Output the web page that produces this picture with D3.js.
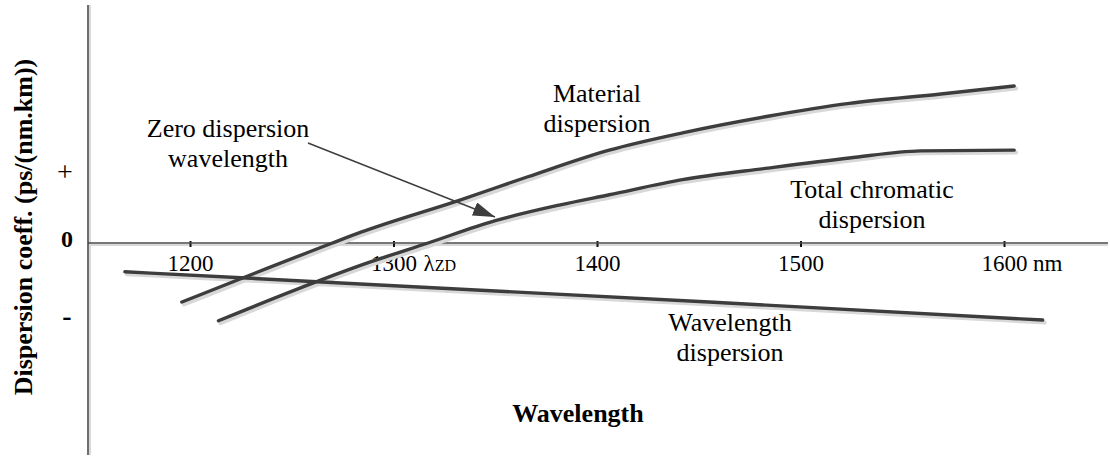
<!DOCTYPE html>
<html>
<head>
<meta charset="utf-8">
<script src="https://cdn.jsdelivr.net/npm/d3@7"></script>
<style>
    body { margin: 0; background: #fff; }
    text { font-family: "Liberation Serif", "Times New Roman", serif; fill: #000; }
</style>
</head>
<body>
<div id="chart"></div>
<script>

// wavelength (nm) and dispersion (arbitrary units: +1 = "+", -1 = "-")
const materialNm  = [1196, 1270, 1284, 1333, 1366, 1406, 1442, 1484, 1524, 1569, 1605];
const materialVal = [-0.82, 0, 0.15, 0.60, 0.92, 1.29, 1.53, 1.76, 1.94, 2.07, 2.18];

const totalNm  = [1214, 1289, 1317, 1350, 1382, 1406, 1442, 1484, 1524, 1559, 1605];
const totalVal = [-1.08, -0.26, 0, 0.31, 0.53, 0.67, 0.88, 1.04, 1.18, 1.28, 1.29];

const waveguideNm  = [1168, 1455, 1619];
const waveguideVal = [-0.40, -0.82, -1.07];

const xTicks = [1200, 1300, 1400, 1500, 1600];
const yLabels = [{v: 1, t: "+"}, {v: 0, t: "0"}, {v: -1, t: "-"}];

const W = 1110, H = 457;
const lineColor = "#3d3d3d", shadowColor = "#d8d8d8";

let svg = d3.select("#chart").append("svg")
    .attr("width", W)
    .attr("height", H);

// scales
let x = d3.scaleLinear().domain([1200, 1600]).range([190, 1004]);
let y = d3.scaleLinear().domain([-1, 1]).range([315, 171]);

const axisX0 = 88, axisX1 = 1108, axisTop = 5, axisBottom = 455;

// axis shadows
svg.append("line")
    .attr("x1", axisX0 + 2).attr("x2", axisX0 + 2)
    .attr("y1", axisTop).attr("y2", axisBottom)
    .attr("stroke", shadowColor).attr("stroke-width", 2);
svg.append("line")
    .attr("x1", axisX0).attr("x2", axisX1)
    .attr("y1", y(0) + 2).attr("y2", y(0) + 2)
    .attr("stroke", shadowColor).attr("stroke-width", 2);

// vertical axis line
svg.append("line")
    .attr("x1", axisX0).attr("x2", axisX0)
    .attr("y1", axisTop).attr("y2", axisBottom)
    .attr("stroke", "#4a4a4a").attr("stroke-width", 1.6);

// x axis through zero
let xAxis = d3.axisBottom(x)
    .tickValues(xTicks)
    .tickSize(4)
    .tickFormat(d3.format("d"));

let gx = svg.append("g")
    .attr("class", "x-axis")
    .attr("transform", `translate(0,${y(0)})`)
    .call(xAxis);

gx.select(".domain").remove();
gx.selectAll(".tick line")
    .attr("y1", -2)
    .attr("y2", 4)
    .attr("stroke", "#111")
    .attr("stroke-width", 2);
gx.selectAll(".tick text")
    .attr("y", 28)
    .attr("dy", 0)
    .style("font-family", '"Liberation Serif", "Times New Roman", serif')
    .style("font-size", "23px")
    .attr("fill", "#000");

svg.append("line")
    .attr("x1", axisX0).attr("x2", axisX1)
    .attr("y1", y(0)).attr("y2", y(0))
    .attr("stroke", "#4a4a4a").attr("stroke-width", 1.6);

// extra tick annotations
let zd = svg.append("text")
    .attr("x", x(1300) + 30)
    .attr("y", y(0) + 28)
    .style("font-size", "23px")
    .text("λ");
zd.append("tspan")
    .style("font-size", "16px")
    .text("ZD");

svg.append("text")
    .attr("x", x(1600) + 29)
    .attr("y", y(0) + 28)
    .style("font-size", "23px")
    .text("nm");

// y labels (+, 0, -)
svg.selectAll(".ylab")
    .data(yLabels)
    .enter()
    .append("text")
    .attr("class", "ylab")
    .attr("x", d => d.t === "+" ? 65 : 67)
    .attr("y", d => y(d.v))
    .attr("dy", d => d.t === "0" ? "0.15em" : "0.35em")
    .attr("text-anchor", "middle")
    .style("font-size", d => d.t === "0" ? "24px" : "28px")
    .style("font-weight", d => d.t === "+" ? "normal" : "bold")
    .text(d => d.t);

// axis titles
svg.append("text")
    .attr("transform", `translate(32,227) rotate(-90)`)
    .attr("text-anchor", "middle")
    .style("font-size", "26px")
    .style("font-weight", "bold")
    .text("Dispersion coeff. (ps/(nm.km))");

svg.append("text")
    .attr("x", 578)
    .attr("y", 422)
    .attr("text-anchor", "middle")
    .style("font-size", "26px")
    .style("font-weight", "bold")
    .text("Wavelength");

// curves
let line = d3.line()
    .x(d => x(d[0]))
    .y(d => y(d[1]))
    .curve(d3.curveMonotoneX);

let series = [
    d3.zip(materialNm, materialVal),
    d3.zip(totalNm, totalVal),
    d3.zip(waveguideNm, waveguideVal)
];

svg.selectAll(".shadow")
    .data(series)
    .enter()
    .append("path")
    .attr("class", "shadow")
    .attr("transform", "translate(2,2.5)")
    .attr("d", line)
    .attr("fill", "none")
    .attr("stroke", shadowColor)
    .attr("stroke-width", 4)
    .attr("stroke-linecap", "round");

svg.selectAll(".curve")
    .data(series)
    .enter()
    .append("path")
    .attr("class", "curve")
    .attr("d", line)
    .attr("fill", "none")
    .attr("stroke", lineColor)
    .attr("stroke-width", 3.4)
    .attr("stroke-linecap", "round");

// curve labels
let labels = [
    {lines: ["Zero dispersion", "wavelength"], x: 228, y: 137},
    {lines: ["Material", "dispersion"], x: 597, y: 102},
    {lines: ["Total chromatic", "dispersion"], x: 872, y: 198},
    {lines: ["Wavelength", "dispersion"], x: 730, y: 331}
];

labels.forEach(l => {
    let t = svg.append("text")
        .attr("text-anchor", "middle")
        .style("font-size", "26px");
    l.lines.forEach((s, i) => {
        t.append("tspan")
            .attr("x", l.x)
            .attr("y", l.y + i * 30)
            .text(s);
    });
});

// arrow pointing at the zero dispersion wavelength
svg.append("defs").append("marker")
    .attr("id", "head")
    .attr("markerUnits", "userSpaceOnUse")
    .attr("viewBox", "0 0 22 14")
    .attr("refX", 22)
    .attr("refY", 7)
    .attr("markerWidth", 22)
    .attr("markerHeight", 14)
    .attr("orient", "auto")
    .append("path")
    .attr("d", "M0,0 L22,7 L0,14 Z")
    .attr("fill", "#3d3d3d");

svg.append("line")
    .attr("x1", 308).attr("y1", 143)
    .attr("x2", 495).attr("y2", 217)
    .attr("stroke", "#3d3d3d")
    .attr("stroke-width", 1.4)
    .attr("marker-end", "url(#head)");

</script>
</body>
</html>
